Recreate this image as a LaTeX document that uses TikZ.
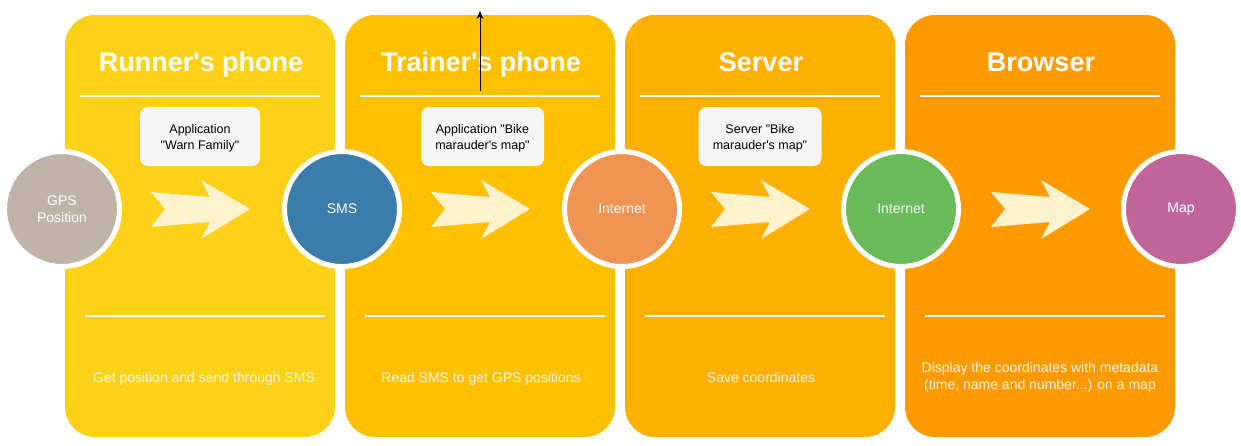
\documentclass[tikz,border=0pt]{standalone}
\usepackage{fontspec}
\setmainfont{Liberation Sans}
\usetikzlibrary{arrows.meta}
\definecolor{pA}{HTML}{FDD118}
\definecolor{pB}{HTML}{FFC000}
\definecolor{pC}{HTML}{FFB000}
\definecolor{pD}{HTML}{FF9A00}
\definecolor{cGPS}{HTML}{BFB3A8}
\definecolor{cSMS}{HTML}{3A7DAA}
\definecolor{cNetA}{HTML}{EF9453}
\definecolor{cNetB}{HTML}{6ABA5C}
\definecolor{cMap}{HTML}{C06599}
\definecolor{arrowfill}{HTML}{FFF2CC}
\definecolor{boxfill}{HTML}{F5F5F5}
\definecolor{lighttext}{HTML}{FFF8E6}
\newcommand{\sq}{\textquotesingle}
\newcommand{\dq}{\textquotedbl}
\tikzset{
  panel/.style={draw=none, rounded corners=30pt, minimum width=270pt, minimum height=422pt, inner sep=0pt},
  paneltitle/.style={text=white, font=\bfseries\fontsize{27}{32}\selectfont, inner sep=0pt, anchor=base},
  sepline/.style={draw=white, line width=2pt},
  appbox/.style={fill=boxfill, draw=none, rounded corners=8pt, minimum width=120pt, minimum height=59pt, inner sep=0pt},
  apptext/.style={align=center, font=\fontsize{12.5}{16}\selectfont, text=black, inner sep=0pt},
  stage/.style={circle, draw=white, line width=5pt, minimum size=115pt, inner sep=0pt, text=white, align=center, font=\fontsize{14}{17}\selectfont},
  bottomtext/.style={text=lighttext, align=center, font=\fontsize{14}{17}\selectfont, inner sep=0pt},
  flowarrow/.style={fill=arrowfill, draw=none},
}
\begin{document}
\begin{tikzpicture}[x=1pt,y=-1pt]
\useasboundingbox (0,0) rectangle (1241,445);
% panels
\node[panel, fill=pA] (p1) at (200,226) {};
\node[panel, fill=pB] (p2) at (480,226) {};
\node[panel, fill=pC] (p3) at (760,226) {};
\node[panel, fill=pD] (p4) at (1040,226) {};
% titles
\node[paneltitle] (t1) at (201,71) {Runner\sq s phone};
\node[paneltitle] (t2) at (481,71) {Trainer\sq s phone};
\node[paneltitle] (t3) at (761,71) {Server};
\node[paneltitle] (t4) at (1041,71) {Browser};
% separator lines
\foreach \i in {0,1,2,3}{
  \draw[sepline] (80+280*\i,96) -- (320+280*\i,96);
  \draw[sepline] (85+280*\i,316) -- (325+280*\i,316);
}
% application boxes
\node[appbox] (b1) at (200,136.5) {};
\node[apptext] (b1t) at (200,138.5) {Application\\\dq Warn Family\dq};
\node[appbox, minimum width=123pt] (b2) at (482.5,136.5) {};
\node[apptext] (b2t) at (482.5,138.5) {Application \dq Bike\\marauder\sq s map\dq};
\node[appbox, minimum width=123pt] (b3) at (760,136.5) {};
\node[apptext] (b3t) at (760,138.5) {Server \dq Bike\\marauder\sq s map\dq};
% block arrows
\foreach \i in {0,1,2,3}{
  \begin{scope}[shift={(150+280*\i,209)}]
    \fill[flowarrow] (1,-17) -- (15,0) -- (1,18) -- (60,13) -- (51,30) -- (100,0) -- (51,-29) -- (60,-12) -- cycle;
  \end{scope}
}
% stage circles
\node[stage, fill=cGPS] (gps) at (62,209) {GPS\\Position};
\node[stage, fill=cSMS] (sms) at (342,209) {SMS};
\node[stage, fill=cNetA] (neta) at (622,209) {Internet};
\node[stage, fill=cNetB] (netb) at (901,209) {Internet};
\node[stage, fill=cMap] (map) at (1181,209) {Map};
% bottom texts
\node[bottomtext, anchor=base] (d1) at (204,382) {Get position and send through SMS};
\node[bottomtext, anchor=base] (d2) at (481,382) {Read SMS to get GPS positions};
\node[bottomtext, anchor=base] (d3) at (761,382) {Save coordinates};
\node[bottomtext] (d4) at (1040,377) {Display the coordinates with metadata\\(time, name and number...) on a map};
% stray arrow
\coordinate (lbase) at (480,91);
\coordinate (ltip) at (480,11);
\draw[line width=1pt, -{Stealth[length=8pt,width=7pt]}] (lbase) -- (ltip);
\end{tikzpicture}
\end{document}
